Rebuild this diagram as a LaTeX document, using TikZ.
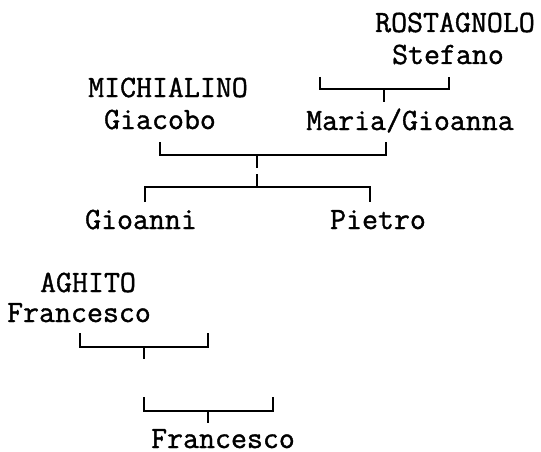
\documentclass[tikz,border=0pt]{standalone}
\usepackage{fontspec}
\newfontfamily\treefont[FakeBold=1.2]{Latin Modern Mono}
\begin{document}
\begin{tikzpicture}[x=1pt,y=-1pt,
  lbl/.style={anchor=base,inner sep=0pt,font=\fontsize{31}{31}\treefont},
  conn/.style={line width=2pt,line join=miter}]
\useasboundingbox (0,0) rectangle (541,452);
% names
\node[lbl] (rost) at (455,32) {ROSTAGNOLO};
\node[lbl] (stef) at (448,64) {Stefano};
\node[lbl] (maria) at (410,130) {Maria/Gioanna};
\node[lbl] (mich) at (168,97) {MICHIALINO};
\node[lbl] (giac) at (160,129) {Giacobo};
\node[lbl] (gioanni) at (141,229) {Gioanni};
\node[lbl] (pietro) at (378,229) {Pietro};
\node[lbl] (aghi) at (88,292) {AGHITO};
\node[lbl] (fra1) at (79,322) {Francesco};
\node[lbl] (fra2) at (223,448) {Francesco};
% bracket 1
\coordinate (a1) at (320,77); \coordinate (a2) at (320,89);
\coordinate (a3) at (449,89); \coordinate (a4) at (449,77);
\coordinate (am) at (384,89); \coordinate (as) at (384,102);
\draw[conn] (a1) -- (a2) -- (a3) -- (a4);
\draw[conn] (am) -- (as);
% bracket 2
\coordinate (b1) at (160,142); \coordinate (b2) at (160,155);
\coordinate (b3) at (386,155); \coordinate (b4) at (386,142);
\coordinate (bm) at (257,155); \coordinate (bs) at (257,168);
\draw[conn] (b1) -- (b2) -- (b3) -- (b4);
\draw[conn] (bm) -- (bs);
% bracket 2b
\coordinate (c1) at (145,202); \coordinate (c2) at (145,187);
\coordinate (c3) at (370,187); \coordinate (c4) at (370,202);
\coordinate (cm) at (257,187); \coordinate (cs) at (257,174);
\draw[conn] (c1) -- (c2) -- (c3) -- (c4);
\draw[conn] (cm) -- (cs);
% bracket 3
\coordinate (d1) at (80,333); \coordinate (d2) at (80,347);
\coordinate (d3) at (208,347); \coordinate (d4) at (208,333);
\coordinate (dm) at (144,347); \coordinate (ds) at (144,359);
\draw[conn] (d1) -- (d2) -- (d3) -- (d4);
\draw[conn] (dm) -- (ds);
% bracket 4
\coordinate (e1) at (144,397); \coordinate (e2) at (144,411);
\coordinate (e3) at (273,411); \coordinate (e4) at (273,397);
\coordinate (em) at (208,411); \coordinate (es) at (208,423);
\draw[conn] (e1) -- (e2) -- (e3) -- (e4);
\draw[conn] (em) -- (es);
\end{tikzpicture}
\end{document}
